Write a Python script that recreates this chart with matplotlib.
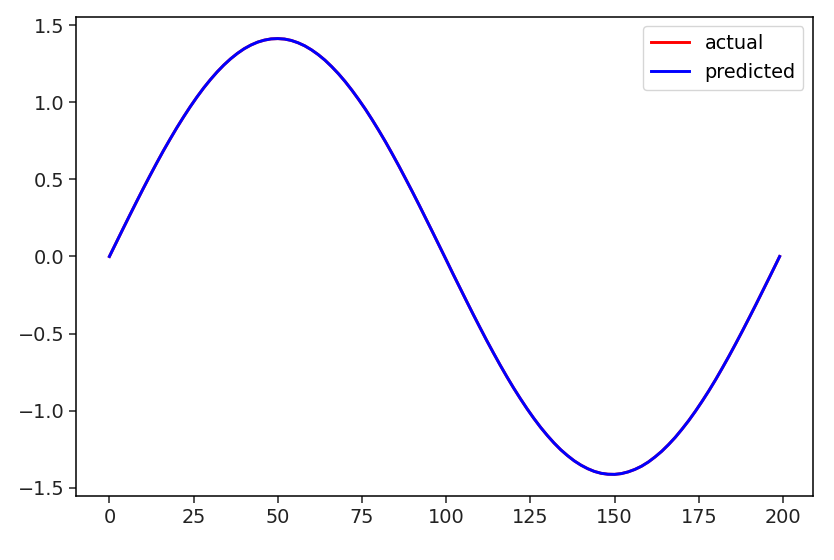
import matplotlib.pyplot as plt

# values, every 2 steps
steps = list(range(0, 200, 2)) + [199]
actual = [0.000, 0.089, 0.178, 0.266, 0.353, 0.439, 0.523, 0.605, 0.685, 0.761,
          0.835, 0.905, 0.972, 1.035, 1.094, 1.148, 1.198, 1.243, 1.283, 1.318,
          1.348, 1.372, 1.391, 1.404, 1.412, 1.414, 1.411, 1.402, 1.387, 1.367,
          1.341, 1.310, 1.274, 1.232, 1.186, 1.135, 1.079, 1.019, 0.956, 0.888,
          0.817, 0.743, 0.665, 0.585, 0.502, 0.418, 0.332, 0.244, 0.156, 0.067,
          -0.022, -0.112, -0.200, -0.288, -0.375, -0.460, -0.544, -0.625, -0.704, -0.780,
          -0.853, -0.922, -0.988, -1.050, -1.108, -1.161, -1.210, -1.254, -1.292, -1.326,
          -1.354, -1.377, -1.395, -1.407, -1.413, -1.414, -1.409, -1.398, -1.382, -1.361,
          -1.334, -1.301, -1.264, -1.221, -1.174, -1.121, -1.065, -1.004, -0.939, -0.871,
          -0.799, -0.723, -0.645, -0.564, -0.481, -0.396, -0.310, -0.222, -0.134, -0.045,
          0.000]
predicted = [0.000, 0.089, 0.178, 0.266, 0.353, 0.439, 0.523, 0.605, 0.685, 0.761,
             0.835, 0.905, 0.972, 1.035, 1.094, 1.148, 1.198, 1.243, 1.283, 1.318,
             1.348, 1.372, 1.391, 1.404, 1.412, 1.414, 1.411, 1.402, 1.387, 1.367,
             1.341, 1.310, 1.274, 1.232, 1.186, 1.135, 1.079, 1.019, 0.956, 0.888,
             0.817, 0.743, 0.665, 0.585, 0.502, 0.418, 0.332, 0.244, 0.156, 0.067,
             -0.022, -0.112, -0.200, -0.288, -0.375, -0.460, -0.544, -0.625, -0.704, -0.780,
             -0.853, -0.922, -0.988, -1.050, -1.108, -1.161, -1.210, -1.254, -1.292, -1.326,
             -1.354, -1.377, -1.395, -1.407, -1.413, -1.414, -1.409, -1.398, -1.382, -1.361,
             -1.334, -1.301, -1.264, -1.221, -1.174, -1.121, -1.065, -1.004, -0.939, -0.871,
             -0.799, -0.723, -0.645, -0.564, -0.481, -0.396, -0.310, -0.222, -0.134, -0.045,
             0.000]

plt.rcParams['font.size'] = 13.9
plt.rcParams['xtick.major.size'] = 4.9
plt.rcParams['ytick.major.size'] = 4.9
plt.rcParams['xtick.major.width'] = 1.1
plt.rcParams['ytick.major.width'] = 1.1
plt.rcParams['axes.linewidth'] = 1.1
plt.rcParams['xtick.color'] = '#222222'
plt.rcParams['ytick.color'] = '#222222'

fig = plt.figure(figsize=(8.34, 5.6), dpi=100)
ax = fig.add_axes([0.091, 0.114, 0.884, 0.856])

ax.plot(steps, actual, color='red', lw=2.1, label='actual')
ax.plot(steps, predicted, color='blue', lw=2.1, label='predicted')
ax.legend(loc='upper right')

ax.set_xticks([0, 25, 50, 75, 100, 125, 150, 175, 200])
ax.set_yticks([-1.5, -1.0, -0.5, 0.0, 0.5, 1.0, 1.5])

fig.savefig('out.png', dpi=100)
